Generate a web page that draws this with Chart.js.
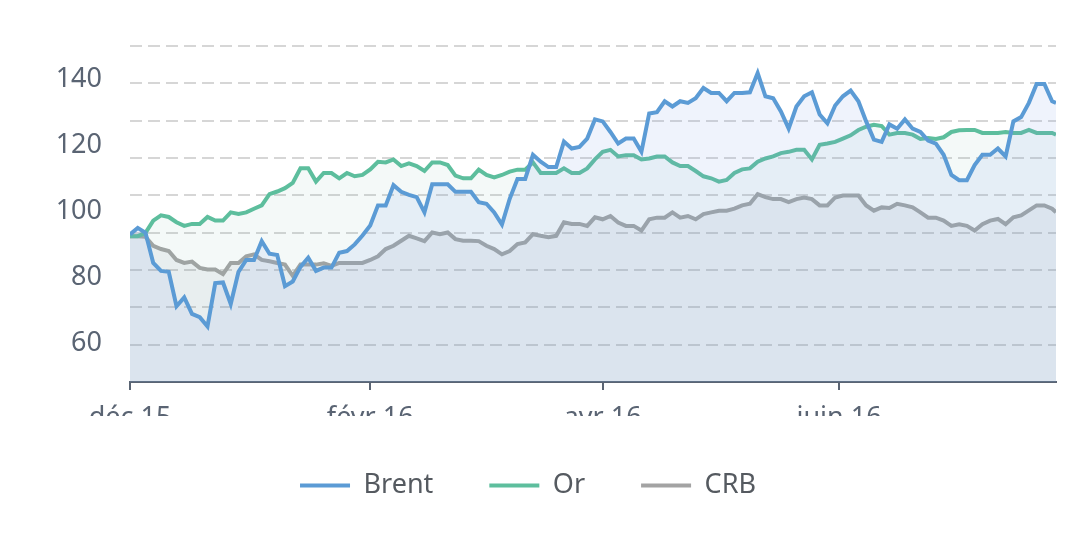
<!DOCTYPE html>
<html><head><meta charset="utf-8">
<script src="https://cdn.jsdelivr.net/npm/chart.js@4"></script>
<style>html,body{margin:0;padding:0;background:#fff}#w{width:1092px;height:547px}</style>
</head><body><div id="w"><canvas id="c"></canvas></div>
<script>
const seriesNames = ['Brent','Or','CRB'];
const tickDays = [0,62,122,183];
const tickLabels = ['déc 15','févr 16','avr 16','juin 16'];
const yTicks = [60,80,100,120,140];
const days = [];
for (let d = 0; d <= 238; d += 2) days.push(d);
days.push(239);
const brent = [93,95,93.5,84.4,82,81.7,71.3,74,69,68,65.2,78.3,78.5,72,81.7,85.3,85.3,91,87.2,86.8,77.4,78.8,83.2,86,82,83,83,87.5,88,90,92.7,95.7,101.8,101.8,107.9,105.9,105,104.3,99.7,108.2,108.2,108.2,105.9,105.9,105.9,102.8,102.3,99.7,96,103.8,109.8,109.8,117.1,115,113.4,113.4,121.1,119,119.5,122,127.8,127.2,124,120.5,122,122,118,129.6,130,133.3,131.7,133.3,132.8,134.2,137.3,135.8,135.8,133.3,135.8,135.8,136,141.8,134.8,134.2,130.2,125,131.7,134.8,136,129.3,126.6,132,134.8,136.5,133.3,127.2,121.7,121,126.3,125,127.8,125,124,121.4,120.5,117.1,111,109.4,109.4,114,117.1,117.1,119,116.6,127.2,128.5,132.8,138.5,138.5,133.3,132.8];
const gold = [92.5,92.5,93.5,97.2,98.8,98.3,96.7,95.6,96.2,96.2,98.3,97.2,97.2,99.7,99.2,99.7,100.8,101.8,105.2,106,107,108.6,113,113,109,111.6,111.6,110,111.6,110.6,111,112.7,115,114.8,115.7,113.7,114.5,113.7,112.2,114.8,114.8,114,110.8,110,110,112.6,111,110.3,111,112,112.6,112.6,114.8,111.6,111.6,111.6,113,111.6,111.6,113,115.7,118,118.6,116.6,117,117,115.7,116,116.6,116.6,114.8,113.7,113.7,112.2,110.6,110,109,109.5,111.6,112.7,113,115,116,116.6,117.6,118,118.6,118.6,115.7,120.1,120.5,121,122,123,124.6,125.6,126.2,125.8,123.2,123.7,123.7,123.2,121.9,122.2,121.9,122.4,124,124.5,124.6,124.6,123.7,123.7,123.7,124,123.7,123.7,124.6,123.7,123.7,123.7,123.2];
const crb = [92.5,92.5,92.3,89.6,88.6,88,85.3,84.4,84.8,82.9,82.4,82.4,81,84.4,84.4,86.4,87,85.3,84.9,84.4,83.9,80.5,83.9,83.9,83.9,84.3,83.5,84.4,84.4,84.4,84.4,85.3,86.4,88.6,89.6,91.1,92.6,91.8,91,93.6,93.1,93.6,91.6,91.1,91.1,91,89.6,88.6,87,88,90.1,90.6,93.1,92.6,92.2,92.6,96.7,96.2,96.2,95.6,98.2,97.6,98.6,96.6,95.6,95.6,94.2,97.6,98.1,98.1,99.7,98.1,98.6,97.6,99.2,99.7,100.2,100.2,100.8,101.8,102.3,105.2,104.3,103.7,103.7,102.8,103.7,104.2,103.7,101.8,101.8,104.2,104.8,104.8,104.8,101.8,100.2,101.2,101,102.3,101.8,101.2,99.7,98.1,98.1,97.2,95.6,96.1,95.6,94.2,96.1,97.2,97.7,96.1,98.2,98.8,100.3,101.8,101.8,100.8,99.7];

const colors = ['#5b9bd5','#5dbe9d','#a3a3a3'];
const fills = ['rgba(120,160,230,0.12)','rgba(110,180,160,0.08)','rgba(120,140,155,0.1)'];
const vals = [brent, gold, crb];
const FONT = '"Noto Sans", sans-serif';

new Chart(document.getElementById('c'), {
  type: 'line',
  data: {
    datasets: seriesNames.map((n,i) => ({
      label: n,
      data: days.map((d,k) => ({x:d, y:vals[i][k]})),
      borderColor: colors[i],
      backgroundColor: fills[i],
      borderWidth: 4,
      pointRadius: 0,
      tension: 0,
      fill: 'start',
      yAxisID: 'y'
    }))
  },
  options: {
    responsive: true, maintainAspectRatio: false, animation: false,
    layout: {padding: {left: 0, right: 36, top: 46, bottom: 38}},
    plugins: {
      tooltip: {enabled: false},
      legend: {
        position: 'bottom',
        labels: {
          font: {family: FONT, size: 27}, color: '#555a60',
          boxWidth: 50, boxHeight: 4, padding: 56,
          generateLabels: (chart) => chart.data.datasets.map((ds,i) => ({
            text: ds.label, fillStyle: ds.borderColor, strokeStyle: ds.borderColor,
            lineWidth: 0, hidden: false, datasetIndex: i, fontColor: '#555a60'
          }))
        }
      }
    },
    scales: {
      x: {
        type: 'linear', min: 0, max: 239,
        afterBuildTicks: s => { s.ticks = tickDays.map(v => ({value: v})); },
        ticks: {
          callback: (v) => { const i = tickDays.indexOf(v); return i >= 0 ? tickLabels[i] : ''; },
          font: {family: FONT, size: 27}, color: '#5a6473', padding: 12, maxRotation: 0, autoSkip: false
        },
        grid: {drawOnChartArea: false, drawTicks: true, tickLength: 8, color: '#5a6473', lineWidth: 2},
        border: {color: '#5a6473', width: 2},
        afterFit: s => { s.height = 34; }
      },
      y: {
        min: 48.4, max: 150,
        afterBuildTicks: s => { s.ticks = yTicks.map(v => ({value: v})); },
        ticks: {font: {family: FONT, size: 27}, color: '#5a6473', padding: 20},
        grid: {display: false},
        border: {display: false},
        afterFit: s => { s.width = 130; }
      },
      g: {
        position: 'right', min: 0, max: 9,
        ticks: {display: false, stepSize: 1},
        grid: {color: '#d6d6d6', lineWidth: 2, drawTicks: false},
        border: {display: false, dash: [12,6]},
        afterFit: s => { s.width = 0; }
      }
    }
  }
});
</script></body></html>
